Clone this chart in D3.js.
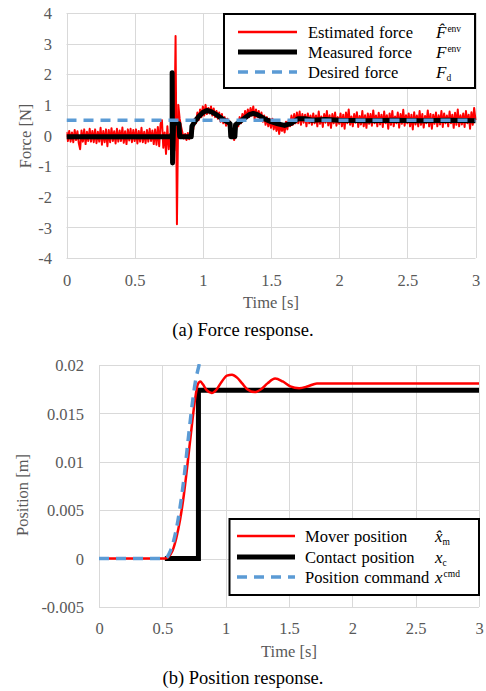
<!DOCTYPE html>
<html><head><meta charset="utf-8">
<script src="https://cdn.jsdelivr.net/npm/d3@7"></script>
<style>
body{margin:0;background:#fff;}
svg text{font-family:"Liberation Serif","Times New Roman","DejaVu Serif",serif !important;}
</style></head><body>
<svg id="c" width="486" height="691"></svg>
<script>
// ---------- (a) Force response data ----------
const forceXTicks = [0,0.5,1,1.5,2,2.5,3];
const forceYTicks = [-4,-3,-2,-1,0,1,2,3,4];
const forceSampleStep = 0.01; // s
const estimatedForce = [
 0.12,-0.18,0.15,-0.2,0.1,-0.22,0.18,-0.15,0.14,-0.25,
 -0.45,0.16,-0.2,0.2,-0.28,0.12,-0.18,0.22,-0.2,0.15,
 -0.22,0.2,-0.25,0.12,-0.2,0.25,-0.3,0.15,-0.22,0.2,
 -0.35,0.18,-0.22,0.24,-0.18,0.14,-0.26,0.22,-0.2,0.16,
 -0.18,0.26,-0.24,0.14,-0.28,0.2,-0.16,0.22,-0.22,0.18,
 -0.18,0.2,-0.26,0.15,-0.2,0.25,-0.22,0.12,-0.25,0.18,
 -0.2,0.22,-0.18,0.16,-0.28,0.2,-0.3,0.28,-0.35,0.38,
 0.5,-0.4,0.1,-0.6,0.3,-0.45,0.05,-0.3,0.3,-0.5,
 3.25,-2.9,1.0,0.55,0.3,0.1,-0.1,0.05,-0.15,0.08,
 -0.12,0.1,0.3,0.2,0.55,0.4,0.75,0.5,0.85,0.6,
 0.95,0.65,1.0,0.7,0.9,0.72,0.95,0.65,0.88,0.6,
 0.8,0.55,0.75,0.45,0.7,0.4,0.6,0.32,0.55,0.3,
 0.45,-0.05,0.1,-0.15,0.05,0.4,0.3,0.6,0.4,0.7,
 0.5,0.8,0.55,0.85,0.6,0.9,0.65,0.95,0.55,0.85,
 0.6,0.8,0.5,0.75,0.45,0.65,0.35,0.6,0.3,0.55,
 0.25,0.55,0.2,0.45,0.15,0.4,0.05,0.35,0.15,0.3,
 0.1,0.45,0.2,0.5,0.3,0.65,0.35,0.7,0.4,0.75,
 0.4,0.78,0.35,0.7,0.42,0.68,0.3,0.72,0.4,0.65,
 0.35,0.72,0.4,0.65,0.3,0.78,0.38,0.62,0.28,0.7,
 0.42,0.8,0.33,0.66,0.25,0.7,0.4,0.75,0.32,0.6,
 0.38,0.72,0.3,0.68,0.22,0.75,0.4,0.85,0.35,0.62,
 0.3,0.7,0.42,0.76,0.28,0.64,0.36,0.8,0.3,0.66,
 0.25,0.72,0.38,0.7,0.32,0.82,0.4,0.65,0.3,0.74,
 0.36,0.68,0.28,0.78,0.4,0.66,0.22,0.72,0.35,0.8,
 0.3,0.62,0.4,0.75,0.26,0.7,0.38,0.84,0.32,0.66,
 0.4,0.72,0.3,0.68,0.2,0.76,0.36,0.65,0.3,0.8,
 0.35,0.7,0.26,0.64,0.4,0.82,0.3,0.7,0.22,0.68,
 0.38,0.75,0.3,0.66,0.36,0.8,0.28,0.72,0.4,0.65,
 0.3,0.78,0.4,0.68,0.25,0.74,0.35,0.85,0.3,0.66,
 0.36,0.72,0.28,0.8,0.4,0.68,0.22,0.76,0.35,0.9,
 0.5
];
const measuredTime = [0,0.775,0.775,0.778,0.785,0.80,0.825,0.83,0.87,0.915,0.92,0.94,0.97,1.0,1.03,1.06,1.1,1.15,1.19,1.2,1.205,1.235,1.24,1.27,1.3,1.34,1.37,1.4,1.45,1.5,1.55,1.6,1.65,1.7,1.75,1.8,1.9,2.0,2.2,2.4,2.6,2.8,3.0];
const measuredForce = [-0.04,-0.04,2.05,-0.9,0.42,0.42,0.38,-0.04,-0.04,-0.04,0.3,0.45,0.62,0.75,0.82,0.78,0.68,0.52,0.42,0.38,-0.04,-0.04,0.35,0.45,0.55,0.68,0.72,0.68,0.55,0.45,0.38,0.33,0.4,0.55,0.55,0.5,0.52,0.5,0.48,0.5,0.48,0.5,0.48];
const desiredTime = [0,3];
const desiredForce = [0.5,0.5];

// ---------- (b) Position response data ----------
const posXTicks = [0,0.5,1,1.5,2,2.5,3];
const posYTicks = [-0.005,0,0.005,0.01,0.015,0.02];
const moverTime = [0,0.52,0.55,0.58,0.61,0.64,0.67,0.70,0.73,0.76,0.78,0.80,0.82,0.85,0.89,0.93,0.97,1.01,1.05,1.09,1.13,1.17,1.23,1.28,1.33,1.39,1.45,1.51,1.58,1.65,1.72,1.8,2.0,2.5,3.0];
const moverPos = [0,0,0.0002,0.0008,0.0021,0.0040,0.0066,0.0099,0.0134,0.0166,0.0180,0.0183,0.0180,0.0174,0.0171,0.0175,0.0183,0.0189,0.0190,0.0187,0.0181,0.0175,0.0172,0.0175,0.0181,0.0186,0.0183,0.0178,0.0176,0.0178,0.0181,0.0181,0.0181,0.0181,0.0181];
const contactTime = [0.52,0.785,0.785,3.0];
const contactPos = [0,0,0.0174,0.0174];
const cmdTime = [0,0.52,0.55,0.58,0.61,0.64,0.67,0.70,0.73,0.76,0.79,0.81];
const cmdPos = [0,0,0.0004,0.0014,0.0030,0.0053,0.0082,0.0118,0.0153,0.0182,0.0200,0.0212];

const legendA = ["Estimated force","Measured force","Desired force"];
const legendB = ["Mover position","Contact position","Position command"];

const RED="#ff0000", BLACK="#000000", BLUE="#5b9bd5", GRID="#d9d9d9", GRAY="#595959";

const svg = d3.select("#c");
svg.append("rect").attr("width",486).attr("height",691).attr("fill","#fff");

function panel(cfg){
  const g = svg.append("g");
  const x = d3.scaleLinear().domain([0,3]).range([cfg.x0,cfg.x1]);
  const y = d3.scaleLinear().domain(cfg.ydom).range([cfg.yb,cfg.yt]);
  g.append("g").selectAll("line").data(cfg.yticks).join("line")
    .attr("x1",cfg.x0).attr("x2",cfg.x1).attr("y1",d=>Math.round(y(d))+0.5).attr("y2",d=>Math.round(y(d))+0.5)
    .attr("stroke",GRID).attr("stroke-width",1);
  g.append("g").selectAll("line").data(cfg.xticks).join("line")
    .attr("y1",cfg.yt).attr("y2",cfg.yb).attr("x1",d=>Math.round(x(d))+0.5).attr("x2",d=>Math.round(x(d))+0.5)
    .attr("stroke",GRID).attr("stroke-width",1);
  const xa = g.append("g").attr("transform",`translate(0,${cfg.xlabY})`)
    .call(d3.axisBottom(x).tickValues(cfg.xticks).tickSize(0).tickPadding(0).tickFormat(d=>String(d)));
  xa.select(".domain").remove();
  xa.selectAll("text").attr("fill",GRAY).attr("font-size",16.5).attr("dy",0);
  const ya = g.append("g").attr("transform",`translate(${cfg.ylabX},0)`)
    .call(d3.axisLeft(y).tickValues(cfg.yticks).tickSize(0).tickPadding(0).tickFormat(cfg.yfmt));
  ya.select(".domain").remove();
  ya.selectAll("text").attr("fill",GRAY).attr("font-size",16.5).attr("dy","0.34em");
  g.append("text").attr("x",(cfg.x0+cfg.x1)/2).attr("y",cfg.xtitleY).attr("text-anchor","middle")
    .attr("fill",GRAY).attr("font-size",16.5).text("Time [s]");
  g.append("text").attr("transform",`translate(${cfg.ytitleX},${cfg.ytitleY}) rotate(-90)`).attr("text-anchor","middle")
    .attr("fill",GRAY).attr("font-size",16.5).attr("dy","0.34em").text(cfg.ytitle);
  g.append("text").attr("x",243).attr("y",cfg.captionY).attr("text-anchor","middle")
    .attr("fill","#000").attr("font-size",18.5).text(cfg.caption);
  const cid = "clip"+cfg.id;
  svg.append("clipPath").attr("id",cid).append("rect")
    .attr("x",cfg.x0).attr("y",cfg.yt-1).attr("width",cfg.x1-cfg.x0+2).attr("height",cfg.yb-cfg.yt+2);
  const pg = g.append("g").attr("clip-path",`url(#${cid})`);
  return {g,pg,x,y};
}

// ---------- Panel A ----------
const A = panel({id:"a",x0:66.5,x1:475.5,yt:13,yb:258,ydom:[-4,4],xticks:forceXTicks,yticks:forceYTicks,
  yfmt:d=>String(d),xlabY:286,ylabX:52,xtitleY:308,ytitleX:25,ytitleY:136,ytitle:"Force [N]",
  captionY:336,caption:"(a) Force response."});
const estData = estimatedForce.map((v,i)=>[i*forceSampleStep,v]);
const lineA = d3.line().x(d=>A.x(d[0])).y(d=>A.y(d[1]));
A.pg.append("path").attr("d",lineA(estData)).attr("fill","none").attr("stroke",RED).attr("stroke-width",2).attr("stroke-linejoin","round");
A.pg.append("path").attr("d",lineA(measuredTime.map((t,i)=>[t,measuredForce[i]]))).attr("fill","none").attr("stroke",BLACK).attr("stroke-width",5).attr("stroke-linejoin","round");
A.pg.append("path").attr("d",lineA(desiredTime.map((t,i)=>[t,desiredForce[i]]))).attr("fill","none").attr("stroke",BLUE).attr("stroke-width",3.5).attr("stroke-dasharray","10,7");

// ---------- Panel B ----------
const B = panel({id:"b",x0:99,x1:479,yt:365,yb:607,ydom:[-0.005,0.02],xticks:posXTicks,yticks:posYTicks,
  yfmt:d=>String(+d.toFixed(3)),xlabY:634,ylabX:84,xtitleY:657,ytitleX:22,ytitleY:495,ytitle:"Position [m]",
  captionY:684,caption:"(b) Position response."});
const lineB = d3.line().x(d=>B.x(d[0])).y(d=>B.y(d[1]));
B.pg.append("path").attr("d",lineB(contactTime.map((t,i)=>[t,contactPos[i]]))).attr("fill","none").attr("stroke",BLACK).attr("stroke-width",5).attr("stroke-linejoin","miter");
B.pg.append("path").attr("d",lineB.curve(d3.curveMonotoneX)(moverTime.map((t,i)=>[t,moverPos[i]]))).attr("fill","none").attr("stroke",RED).attr("stroke-width",2.5);
B.pg.append("path").attr("d",lineB.curve(d3.curveMonotoneX)(cmdTime.map((t,i)=>[t,cmdPos[i]]))).attr("fill","none").attr("stroke",BLUE).attr("stroke-width",3.5).attr("stroke-dasharray","10,7");

// ---------- Legends ----------
function legend(box,labels,rowsY,sampleX0,sampleX1,textX,symX,symbols){
  const g = svg.append("g");
  g.append("rect").attr("x",box[0]).attr("y",box[1]).attr("width",box[2]).attr("height",box[3])
    .attr("fill","#fff").attr("stroke","#000").attr("stroke-width",2);
  const styles=[{c:RED,w:2.5,d:null},{c:BLACK,w:5,d:null},{c:BLUE,w:3.5,d:"10,7"}];
  labels.forEach((lab,i)=>{
    const s=styles[i];
    g.append("line").attr("x1",sampleX0).attr("x2",sampleX1).attr("y1",rowsY[i]).attr("y2",rowsY[i])
      .attr("stroke",s.c).attr("stroke-width",s.w).attr("stroke-dasharray",s.d);
    g.append("text").attr("x",textX).attr("y",rowsY[i]).attr("dy","0.34em").attr("font-size",16.5)
      .attr("word-spacing","1px").attr("fill","#000").text(lab);
    const sym=symbols[i];
    const t=g.append("text").attr("x",symX).attr("y",rowsY[i]).attr("dy","0.34em").attr("font-size",17).attr("fill","#000");
    t.append("tspan").attr("font-style","italic").text(sym.base + (sym.hat ? "\u0302" : ""));
    if(sym.sub) t.append("tspan").attr("font-size",9.5).attr("dy","3").text(sym.sub);
    if(sym.sup) t.append("tspan").attr("font-size",9.5).attr("dy","-6").attr("dx","1").text(sym.sup);
  });
}
legend([224,14,251,74],legendA,[32,52,72],238,297,308,436,
  [{base:"F",sup:"env",hat:true},{base:"F",sup:"env"},{base:"F",sub:"d"}]);
legend([229.5,519,249.5,76],legendB,[536,557,577],237,295,305,435,
  [{base:"x",sub:"m",hat:true},{base:"x",sub:"c"},{base:"x",sup:"cmd"}]);
</script>
</body></html>
